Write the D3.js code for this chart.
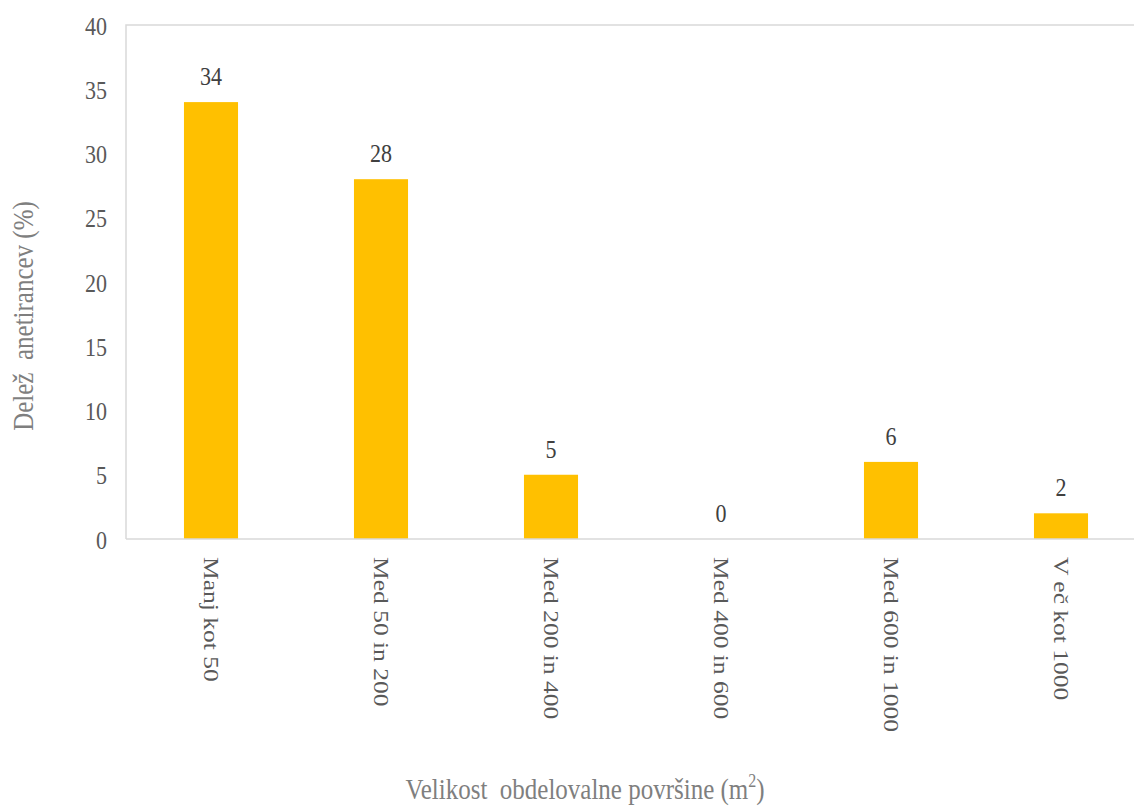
<!DOCTYPE html>
<html>
<head>
<meta charset="utf-8">
<script src="https://cdn.jsdelivr.net/npm/d3@7"></script>
<style>
  html, body { margin: 0; padding: 0; background: #fff; }
  svg { display: block; }
  .title { white-space: pre; }
</style>
</head>
<body>
<svg id="chart" width="1134" height="811"></svg>
<script>
const categories = ["Manj kot 50", "Med 50 in 200", "Med 200 in 400", "Med 400 in 600", "Med 600 in 1000", "V eč kot 1000"];
const values = [34, 28, 5, 0, 6, 2];
const yTicks = [0, 5, 10, 15, 20, 25, 30, 35, 40];
const yTitle = "Delež  anetirancev (%)";
const xTitle = "Velikost  obdelovalne površine (m";

const FONT = "'Liberation Serif', 'DejaVu Serif', serif";
const svg = d3.select("#chart").attr("font-family", FONT);
const mLeft = 126, mTop = 25, mBottom = 539, mRight = 1146;
const SY = 1.16;

const x = d3.scaleBand().domain(categories).range([mLeft, mRight]);
const y = d3.scaleLinear().domain([0, 40]).range([mBottom, mTop]);
const barW = x.bandwidth() * 0.318;

svg.append("path")
  .attr("d", `M${mLeft},${mBottom} L${mLeft},${mTop} L${mRight},${mTop}`)
  .attr("fill", "none").attr("stroke", "#d9d9d9").attr("stroke-width", 1.5);

svg.selectAll("rect.bar").data(categories).join("rect")
  .attr("class", "bar")
  .attr("x", (d) => x(d) + (x.bandwidth() - barW) / 2)
  .attr("width", barW)
  .attr("y", (d, i) => y(values[i]))
  .attr("height", (d, i) => y(0) - y(values[i]))
  .attr("fill", "#ffc000");

svg.append("line")
  .attr("x1", mLeft).attr("x2", mRight).attr("y1", mBottom).attr("y2", mBottom)
  .attr("stroke", "#d9d9d9").attr("stroke-width", 1.5);

svg.selectAll("text.ytick").data(yTicks).join("text")
  .attr("class", "ytick")
  .attr("transform", (d) => `translate(107,${y(d) + 1}) scale(1,${SY})`)
  .attr("text-anchor", "end")
  .attr("dominant-baseline", "central")
  .attr("font-size", 22)
  .attr("fill", "#595959")
  .text((d) => d);

svg.selectAll("text.dlabel").data(categories).join("text")
  .attr("class", "dlabel")
  .attr("transform", (d, i) => `translate(${x(d) + x.bandwidth() / 2},${y(values[i]) - 17}) scale(1,${SY})`)
  .attr("text-anchor", "middle")
  .attr("font-size", 22)
  .attr("fill", "#404040")
  .text((d, i) => values[i]);

svg.selectAll("text.xtick").data(categories).join("text")
  .attr("class", "xtick")
  .attr("transform", (d) => `translate(${x(d) + x.bandwidth() / 2},557) scale(1,${SY}) rotate(90)`)
  .attr("text-anchor", "start")
  .attr("dominant-baseline", "central")
  .attr("font-size", 22)
  .attr("fill", "#595959")
  .text((d) => d);

svg.append("text")
  .attr("class", "title")
  .attr("transform", `translate(23,316) scale(${SY},1) rotate(-90)`)
  .attr("text-anchor", "middle")
  .attr("dominant-baseline", "central")
  .attr("font-size", 25)
  .attr("fill", "#7f7f7f")
  .text(yTitle);

const xt = svg.append("text")
  .attr("class", "title")
  .attr("transform", `translate(585,799) scale(1,${SY})`)
  .attr("text-anchor", "middle")
  .attr("font-size", 25)
  .attr("fill", "#7f7f7f");
xt.append("tspan").text(xTitle);
xt.append("tspan").attr("dy", -10).attr("font-size", 16).text("2");
xt.append("tspan").attr("dy", 10).text(")");
</script>
</body>
</html>
